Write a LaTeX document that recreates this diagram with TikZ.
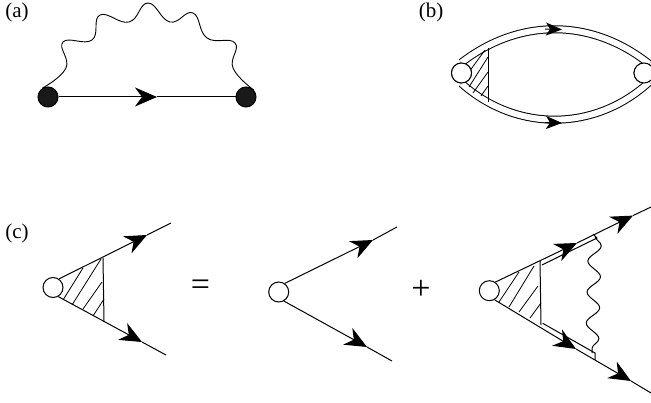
\documentclass[tikz,border=0pt]{standalone}
\usepackage{fontspec}
\setmainfont{Liberation Serif}
\usepackage{tikz}
\usetikzlibrary{arrows.meta,decorations.pathmorphing}
\tikzset{
  vtx/.style={draw, circle, fill=white, minimum size=20pt, inner sep=0pt},
  dot/.style={draw, circle, fill=black!90, minimum size=20pt, inner sep=0pt},
  lbl/.style={font=\fontsize{21}{21}\selectfont, inner sep=0pt},
  sym/.style={font=\fontsize{34}{34}\selectfont, inner sep=0pt},
  fer/.style={-{Stealth[length=22pt, width=19pt, inset=7pt]}},
  fersm/.style={-{Stealth[length=16pt, width=13pt, inset=4pt]}},
  dbl/.style={double, double distance=6pt},
  wigv/.style={decorate, decoration={snake, segment length=31pt, amplitude=6.5pt}},
}
\begin{document}
\begin{tikzpicture}[x=1pt, y=-1pt, line width=1pt]
    \useasboundingbox (0,0) rectangle (651,403);
    % (a)
    \node[lbl] (la) at (17,12) {(a)};
    \node[dot] (a1) at (48,97) {};
    \node[dot] (a2) at (246,97) {};
    \coordinate (atip) at (157,97);
    \draw[fer] (a1) -- (atip);
    \draw (atip) -- (a2);
    \draw[line width=0.9pt] plot[smooth, tension=0.75] coordinates {(a1.125) (66,68) (63,42) (92,40) (100,15)
      (129,22) (148,3) (170,22) (193,13) (207,38) (235,43) (233,68) (a2.40)};
    % (b)
    \node[lbl] (lb) at (431,12) {(b)};
    \node[vtx] (b1) at (461.5,73) {};
    \node[vtx] (b2) at (644,73) {};
    \draw[dbl] (b1.north) to[bend left=38] (b2.60);
    \draw[dbl] (b1.south) to[bend right=42] (b2.300);
    \coordinate (btip) at (562,29.5);
    \coordinate (bbot) at (562,123);
    \draw[fersm] (545,29) -- (btip);
    \draw[fersm] (545,122.5) -- (bbot);
    \coordinate (bv1) at (488,48);
    \coordinate (bv2) at (488,102);
    \draw (bv1) -- (bv2);
    \foreach \xa/\ya/\xb/\yb in {485/50/469/72, 488/57/469/87, 488/72/473/93, 488/86/481/96}
      \draw[line width=0.8pt] (\xa,\ya) -- (\xb,\yb);
    \node[vtx] at (b1) {};
    \node[vtx] at (b2) {};
    % (c) left
    \node[lbl] (lc) at (17,233) {(c)};
    \node[vtx] (c1) at (53,287.5) {};
    \coordinate (c1u) at (147,235);
    \coordinate (c1ue) at (171,223);
    \coordinate (c1l) at (142,342);
    \coordinate (c1le) at (166,355);
    \draw[fer] (c1.55) -- (c1u);
    \draw (c1u) -- (c1ue);
    \draw[fer] (c1.-60) -- (c1l);
    \draw (c1l) -- (c1le);
    \draw (103,258) -- (104,322);
    \foreach \xa/\ya/\xb/\yb in {83/268/63/300, 101/259/72/305, 102/282/83/309, 104/299/93/316}
      \draw[line width=0.8pt] (\xa,\ya) -- (\xb,\yb);
    % equals, plus
    \node[sym] (eq) at (200.5,288) {=};
    \node[sym] (pl) at (421,290) {+};
    % (c) middle
    \node[vtx] (c2) at (278.7,292) {};
    \coordinate (c2u) at (373,240);
    \coordinate (c2ue) at (397,227);
    \coordinate (c2l) at (367,347);
    \coordinate (c2le) at (392,361);
    \draw[fer] (c2.55) -- (c2u);
    \draw (c2u) -- (c2ue);
    \draw[fer] (c2.-60) -- (c2l);
    \draw (c2l) -- (c2le);
    % (c) right
    \node[vtx] (c3) at (489.3,290.7) {};
    \coordinate (c3u) at (577,243);
    \coordinate (c3uu) at (633,215.6);
    \coordinate (c3ue) at (651,207);
    \coordinate (c3l) at (576,349);
    \coordinate (c3ll) at (631,381);
    \coordinate (c3le) at (651,393);
    \draw[fer] (c3.55) -- (c3u);
    \draw[fer] (c3u) -- (c3uu);
    \draw (c3uu) -- (c3ue);
    \draw[fer] (c3.-60) -- (c3l);
    \draw[fer] (c3l) -- (c3ll);
    \draw (c3ll) -- (c3le);
    \draw (593,234) -- (597,238) -- (542,265);
    \draw (542.7,323.3) -- (595,353) -- (595,360);
    \draw (540,261) -- (541,325);
    \foreach \xa/\ya/\xb/\yb in {519/272/499/302, 534/266/509/307, 538/286/519/312, 541/303/530/318}
      \draw[line width=0.8pt] (\xa,\ya) -- (\xb,\yb);
    \coordinate (w1) at (595,236);
    \coordinate (w2) at (592,353);
    \draw[wigv] (w1) -- (w2);
  \end{tikzpicture}
\end{document}
